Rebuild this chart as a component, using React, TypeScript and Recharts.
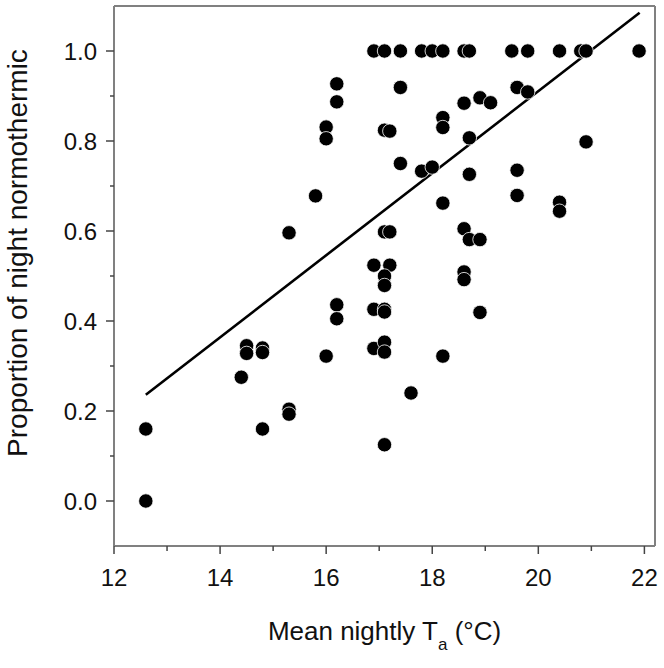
import { ReferenceLine, Scatter, ScatterChart, XAxis, YAxis } from "recharts";

// mean nightly Ta (°C) and proportion of night normothermic
const temps = [
  12.6, 12.6, 14.4, 14.5, 14.5, 14.8, 14.8, 14.8, 15.3, 15.3, 15.3, 15.8, 16.0, 16.0, 16.0,
  16.2, 16.2, 16.2, 16.2, 16.9, 16.9, 16.9, 16.9, 17.1, 17.1, 17.2, 17.1, 17.2, 17.2, 17.1,
  17.1, 17.1, 17.1, 17.1, 17.1, 17.1, 17.4, 17.4, 17.4, 17.6, 17.8, 17.8, 18.0, 18.0, 18.2,
  18.2, 18.2, 18.2, 18.2, 18.6, 18.6, 18.6, 18.6, 18.6, 18.7, 18.7, 18.7, 18.7, 18.9, 18.9,
  18.9, 19.1, 19.5, 19.6, 19.6, 19.6, 19.8, 19.8, 20.4, 20.4, 20.4, 20.8, 20.9, 20.9, 21.9,
];
const proportions = [
  0.16, 0.0, 0.275, 0.345, 0.328, 0.34, 0.33, 0.16, 0.596, 0.204, 0.193, 0.678, 0.831, 0.805, 0.322,
  0.927, 0.887, 0.436, 0.405, 1.0, 0.524, 0.426, 0.339, 1.0, 0.824, 0.822, 0.598, 0.598, 0.524, 0.5,
  0.479, 0.426, 0.42, 0.353, 0.331, 0.125, 1.0, 0.919, 0.75, 0.24, 1.0, 0.733, 1.0, 0.742, 1.0,
  0.852, 0.83, 0.662, 0.322, 1.0, 0.884, 0.605, 0.509, 0.492, 1.0, 0.807, 0.726, 0.581, 0.896, 0.581,
  0.419, 0.885, 1.0, 0.919, 0.735, 0.679, 1.0, 0.909, 1.0, 0.664, 0.644, 1.0, 1.0, 0.798, 1.0,
];

// regression line end points
const fitTemps = [12.6, 21.91];
const fitProportions = [0.236, 1.085];

const xTicks = [12, 13, 14, 15, 16, 17, 18, 19, 20, 21, 22];
const yTicks = [0, 0.1, 0.2, 0.3, 0.4, 0.5, 0.6, 0.7, 0.8, 0.9, 1.0];

const points = temps.map((t, i) => ({ t, p: proportions[i] }));
const fit = fitTemps.map((t, i) => ({ t, p: fitProportions[i] }));

const FONT = "'Liberation Sans', Arial, sans-serif";
const AXIS = "#808080";

const XTick = ({ x, y, payload }: any) => {
  const major = payload.value % 2 === 0;
  return (
    <g>
      <line x1={x} y1={y} x2={x} y2={y + (major ? 8 : 5)} stroke="#444" strokeWidth={1.5} />
      {major && (
        <text x={x} y={y + 40} textAnchor="middle" fontSize={24} fill="#111" fontFamily={FONT}>
          {payload.value}
        </text>
      )}
    </g>
  );
};

const YTick = ({ x, y, payload }: any) => {
  const major = Math.round(payload.value * 10) % 2 === 0;
  return (
    <g>
      <line x1={x} y1={y} x2={x - (major ? 8 : 4)} y2={y} stroke="#444" strokeWidth={1.5} />
      {major && (
        <text x={x - 17} y={y + 8.5} textAnchor="end" fontSize={24} fill="#111" fontFamily={FONT}>
          {payload.value.toFixed(1)}
        </text>
      )}
    </g>
  );
};

const XTitle = ({ viewBox }: any) => (
  <text
    x={viewBox.x + viewBox.width / 2}
    y={viewBox.y + 94}
    textAnchor="middle"
    fontSize={26}
    fill="#111"
    fontFamily={FONT}
  >
    Mean nightly T
    <tspan fontSize={17} dy={10}>a</tspan>
    <tspan dy={-10}> (°C)</tspan>
  </text>
);

const YTitle = () => {
  const cx = 17;
  const cy = 253;
  return (
    <text
      x={cx}
      y={cy}
      transform={`rotate(-90 ${cx} ${cy})`}
      textAnchor="middle"
      dominantBaseline="central"
      fontSize={28}
      fill="#111"
      fontFamily={FONT}
    >
      Proportion of night normothermic
    </text>
  );
};

const Dot = ({ cx, cy }: any) => <circle cx={cx} cy={cy} r={7.2} fill="#000" stroke="#fff" strokeWidth={0.8} />;

export default function App() {
  return (
    <div style={{ position: "absolute", left: 0, top: 0 }}>
      <ScatterChart width={664} height={668} margin={{ top: 6, right: 9, bottom: 0, left: 0 }}>
        <XAxis
          type="number"
          dataKey="t"
          domain={[12, 22.2]}
          ticks={xTicks}
          interval={0}
          height={122}
          tickSize={0}
          tickMargin={0}
          tickLine={false}
          tick={<XTick />}
          axisLine={{ stroke: AXIS, strokeWidth: 2 }}
          label={{ content: XTitle }}
        />
        <YAxis
          type="number"
          dataKey="p"
          domain={[-0.1, 1.1]}
          ticks={yTicks}
          interval={0}
          width={114}
          tickSize={0}
          tickMargin={0}
          tickLine={false}
          tick={<YTick />}
          axisLine={{ stroke: AXIS, strokeWidth: 2 }}
          label={{ content: YTitle }}
        />
        <ReferenceLine y={1.1} stroke={AXIS} strokeWidth={2} />
        <ReferenceLine x={22.2} stroke={AXIS} strokeWidth={2} />
        <Scatter
          data={fit}
          line={{ stroke: "#000", strokeWidth: 2.6 }}
          shape={() => <g />}
          isAnimationActive={false}
        />
        <Scatter data={points} shape={<Dot />} isAnimationActive={false} />
      </ScatterChart>
    </div>
  );
}
